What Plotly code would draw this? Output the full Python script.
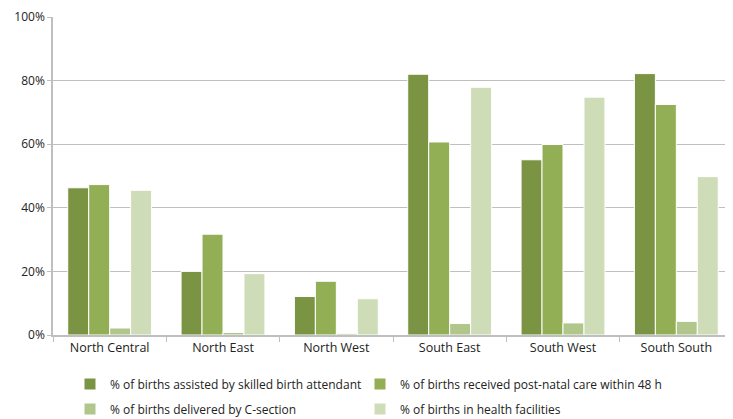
import plotly.graph_objects as go

regions = ["North Central", "North East", "North West", "South East", "South West", "South South"]
series_names = [
    "% of births assisted by skilled birth attendant",
    "% of births received post-natal care within 48 h",
    "% of births delivered by C-section",
    "% of births in health facilities",
]
skilled = [46.3, 20.0, 12.1, 82.0, 55.1, 82.2]
postnatal = [47.3, 31.7, 16.9, 60.7, 59.9, 72.5]
csection = [2.2, 0.8, 0.5, 3.6, 3.8, 4.3]
facilities = [45.5, 19.3, 11.4, 77.9, 74.8, 49.8]
colors = ["#7A9444", "#93AF55", "#B0C68A", "#CEDCB8"]

# page has an 8px body margin, so the figure is 8px smaller than the window
OFF = 8
W, H = 733 - OFF, 419 - OFF
ML, MR, MT, MB = 53 - OFF, 0, 17 - OFF, 84
PW, PH = W - ML - MR, H - MT - MB
# legend slots (legend left x, row centre y) in window pixels
legend_ids = ["legend", "legend2", "legend3", "legend4"]
legend_pos = [(70, 384), (360, 384), (70, 409), (360, 409)]

fig = go.Figure()
for name, vals, col, lid in zip(series_names, [skilled, postnatal, csection, facilities], colors, legend_ids):
    fig.add_trace(go.Bar(
        x=regions, y=[v / 100 for v in vals], name=name, legend=lid,
        marker=dict(color=col, line=dict(color="white", width=1)),
    ))

legend_layout = {}
for lid, (px, py) in zip(legend_ids, legend_pos):
    legend_layout[lid] = dict(
        x=(px - OFF - ML) / PW, xanchor="left",
        y=(H - MB - (py - OFF)) / PH, yanchor="middle",
        font=dict(size=12, color="#222"), bgcolor="rgba(0,0,0,0)",
        itemwidth=30, visible=True,
    )

fig.update_layout(
    width=W, height=H,
    showlegend=True,
    margin=dict(l=ML, r=MR, t=MT, b=MB, autoexpand=False),
    barmode="group", bargap=0.26, bargroupgap=0,
    plot_bgcolor="white", paper_bgcolor="white",
    font=dict(family="Open Sans, Liberation Sans, sans-serif", size=12, color="#222"),
    xaxis=dict(
        showline=True, linecolor="#BFBFBF", linewidth=1.5,
        ticks="outside", tickson="boundaries", ticklen=5, tickcolor="#BFBFBF",
        tickfont=dict(size=12.5), tickangle=0, ticklabeloverflow="allow",
    ),
    yaxis=dict(
        range=[0, 1.0], dtick=0.2, tickformat=".0%",
        showline=True, linecolor="#BFBFBF", linewidth=1.5,
        ticks="outside", ticklen=4, tickcolor="#BFBFBF",
        gridcolor="#BFBFBF", gridwidth=1.2, zeroline=False,
        tickfont=dict(size=12), ticklabeloverflow="allow",
    ),
    **legend_layout,
)
fig.write_html("out.html")
